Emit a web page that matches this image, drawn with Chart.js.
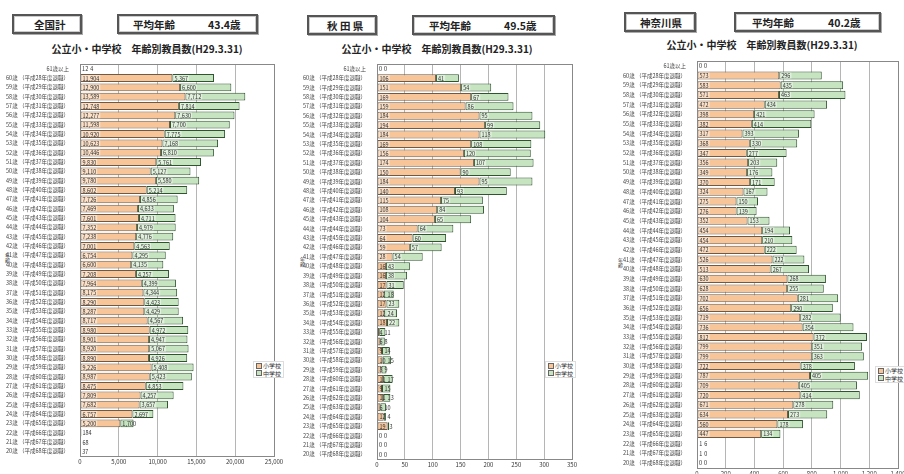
<!DOCTYPE html>
<html lang="ja">
<head>
<meta charset="utf-8">
<title>公立小・中学校 年齢別教員数(H29.3.31)</title>
<script src="https://cdn.jsdelivr.net/npm/chart.js@4.4.1/dist/chart.umd.min.js"></script>
<style>
  html, body { margin: 0; padding: 0; background: #fff; }
  body { width: 904px; height: 474px; position: relative; overflow: hidden;
         font-family: 'Noto Sans CJK JP', 'Noto Sans', sans-serif; color: #222; }
  canvas { position: absolute; }
  .box { position: absolute; box-sizing: border-box; border: 2px solid #555;
         box-shadow: inset 0 0 0 1px #ccc, 1px 1px 0 #aaa; font-weight: bold;
         font-size: 10.5px; background: #fff; }
  .box span { position: absolute; top: 1px; line-height: 15px; white-space: nowrap; }
  .title { position: absolute; font-weight: bold; font-size: 10px; white-space: nowrap;
           transform: translateX(-50%); line-height: 12px; }
  .ytitle { position: absolute; writing-mode: vertical-rl; font-size: 5px; color: #333; }
  .legend { position: absolute; border: 1px solid #ddd; background: #fff; font-size: 6px;
            line-height: 7.5px; padding: 0 2px; color: #333; white-space: nowrap; }
  .sw { display: inline-block; width: 4px; height: 4px; border: 1px solid #666; margin-right: 1px;
        vertical-align: -0.5px; }
</style>
</head>
<body>

<!-- 全国計 -->
<div class="box" style="left:12px;top:14px;width:70px;height:20px;"><span style="left:20px;">全国計</span></div>
<div class="box" style="left:117px;top:14px;width:141px;height:20px;"><span style="left:14px;">平均年齢</span><span style="left:89px;">43.4歳</span></div>
<div class="title" style="left:147px;top:43px;">公立小・中学校　年齢別教員数(H29.3.31)</div>
<div class="ytitle" style="left:4px;top:253px;">年齢</div>
<canvas id="chartZenkoku" width="290" height="418" style="left:0;top:56px;"></canvas>
<div class="legend" style="left:253px;top:361px;">
  <div><span class="sw" style="background:#f7c597"></span>小学校</div>
  <div><span class="sw" style="background:#c6e4c0"></span>中学校</div>
</div>

<!-- 秋田県 -->
<div class="box" style="left:307px;top:15px;width:70px;height:20px;"><span style="left:18px;">秋 田 県</span></div>
<div class="box" style="left:412px;top:15px;width:143px;height:20px;"><span style="left:15px;">平均年齢</span><span style="left:90px;">49.5歳</span></div>
<div class="title" style="left:437px;top:43px;">公立小・中学校　年齢別教員数(H29.3.31)</div>
<div class="ytitle" style="left:299px;top:257px;">年齢</div>
<canvas id="chartAkita" width="290" height="418" style="left:298px;top:56px;"></canvas>
<div class="legend" style="left:545px;top:361px;">
  <div><span class="sw" style="background:#f7c597"></span>小学校</div>
  <div><span class="sw" style="background:#c6e4c0"></span>中学校</div>
</div>

<!-- 神奈川県 -->
<div class="box" style="left:624px;top:12px;width:72px;height:20px;"><span style="left:14px;">神奈川県</span></div>
<div class="box" style="left:734px;top:12px;width:147px;height:20px;"><span style="left:16px;">平均年齢</span><span style="left:92px;">40.2歳</span></div>
<div class="title" style="left:762px;top:39px;">公立小・中学校　年齢別教員数(H29.3.31)</div>
<div class="ytitle" style="left:617px;top:258px;">年齢</div>
<canvas id="chartKanagawa" width="300" height="422" style="left:604px;top:52px;"></canvas>
<div class="legend" style="left:875px;top:366px;">
  <div><span class="sw" style="background:#f7c597"></span>小学校</div>
  <div><span class="sw" style="background:#c6e4c0"></span>中学校</div>
</div>

<script>
// 年齢区分
const ageLabels = [
    '61歳以上',
    '60歳 （平成28年度退職）', '59歳 （平成29年度退職）', '58歳 （平成30年度退職）',
    '57歳 （平成31年度退職）', '56歳 （平成32年度退職）', '55歳 （平成33年度退職）',
    '54歳 （平成34年度退職）', '53歳 （平成35年度退職）', '52歳 （平成36年度退職）',
    '51歳 （平成37年度退職）', '50歳 （平成38年度退職）', '49歳 （平成39年度退職）',
    '48歳 （平成40年度退職）', '47歳 （平成41年度退職）', '46歳 （平成42年度退職）',
    '45歳 （平成43年度退職）', '44歳 （平成44年度退職）', '43歳 （平成45年度退職）',
    '42歳 （平成46年度退職）', '41歳 （平成47年度退職）', '40歳 （平成48年度退職）',
    '39歳 （平成49年度退職）', '38歳 （平成50年度退職）', '37歳 （平成51年度退職）',
    '36歳 （平成52年度退職）', '35歳 （平成53年度退職）', '34歳 （平成54年度退職）',
    '33歳 （平成55年度退職）', '32歳 （平成56年度退職）', '31歳 （平成57年度退職）',
    '30歳 （平成58年度退職）', '29歳 （平成59年度退職）', '28歳 （平成60年度退職）',
    '27歳 （平成61年度退職）', '26歳 （平成62年度退職）', '25歳 （平成63年度退職）',
    '24歳 （平成64年度退職）', '23歳 （平成65年度退職）', '22歳 （平成66年度退職）',
    '21歳 （平成67年度退職）', '20歳 （平成68年度退職）'
];

// 全国計
const zenkokuShou = [12, 11904, 12900, 13589, 12748, 12277, 11598, 10920, 10623, 10446,
    9830, 9110, 9780, 8602, 7726, 7469, 7601, 7352, 7238, 7001,
    6754, 6600, 7208, 7964, 8175, 8290, 8287, 8717, 8980, 8901,
    8920, 8890, 9226, 8987, 8475, 7809, 7682, 6757, 5200, 184,
    68, 37];
const zenkokuChuu = [4, 5367, 6600, 7712, 7814, 7630, 7700, 7775, 7168, 6810,
    5761, 5127, 5580, 5214, 4856, 4633, 4711, 4979, 4776, 4563,
    4295, 4135, 4257, 4399, 4344, 4423, 4429, 4567, 4972, 4947,
    5067, 4926, 5408, 5423, 4853, 4257, 3657, 2697, 1700, null,
    null, null];

// 秋田県
const akitaShou = [0, 106, 151, 169, 159, 184, 194, 184, 169, 156,
    174, 150, 184, 140, 115, 108, 104, 73, 64, 59,
    28, 16, 16, 17, 12, 17, 12, 18, 4, 6,
    9, 10, 8, 11, 9, 11, 6, 12, 19, 0,
    0, 0];
const akitaChuu = [0, 41, 54, 67, 86, 95, 99, 118, 108, 120,
    107, 90, 95, 93, 75, 84, 65, 64, 60, 57,
    54, 43, 38, 31, 18, 23, 24, 22, 11, 8,
    14, 15, 9, 17, 15, 13, 10, 4, 3, 0,
    0, 0];

// 神奈川県
const kanagawaShou = [0, 573, 583, 571, 472, 398, 382, 317, 368, 347,
    356, 349, 370, 324, 275, 276, 352, 454, 454, 472,
    526, 513, 630, 628, 702, 656, 719, 736, 812, 799,
    799, 722, 787, 709, 720, 671, 634, 560, 447, 1,
    1, 0];
const kanagawaChuu = [0, 296, 435, 463, 434, 421, 414, 393, 330, 277,
    203, 176, 171, 167, 150, 139, 153, 194, 210, 222,
    222, 267, 268, 255, 281, 290, 282, 354, 372, 351,
    363, 378, 405, 405, 414, 278, 273, 178, 134, 6,
    0, 0];

Chart.defaults.font.family = "'Noto Sans CJK JP', 'Noto Sans', sans-serif";
Chart.defaults.color = '#333';

// 棒の中に数値を書く
const valueLabels = {
    id: 'valueLabels',
    afterDatasetsDraw(chart) {
        const ctx = chart.ctx;
        ctx.save();
        ctx.font = "5.5px 'Noto Sans CJK JP', sans-serif";
        ctx.textBaseline = 'middle';
        const lastEnd = {};
        chart.data.datasets.forEach((ds, di) => {
            const meta = chart.getDatasetMeta(di);
            meta.data.forEach((bar, i) => {
                const v = ds.data[i];
                if (v === null || v === undefined) return;
                const txt = v.toLocaleString('en-US');
                const w = ctx.measureText(txt).width;
                let left = Math.min(bar.base, bar.x) + 2;
                if (lastEnd[i] !== undefined && left < lastEnd[i] + 2) left = lastEnd[i] + 2;
                const inside = Math.abs(bar.x - bar.base) > w + 4;
                if (inside) {
                    ctx.fillStyle = 'rgba(255,255,255,0.45)';
                    ctx.fillRect(left - 1, bar.y - 3, w + 2, 6);
                }
                ctx.fillStyle = '#333';
                ctx.fillText(txt, left, bar.y + 0.5);
                lastEnd[i] = left + w;
            });
        });
        ctx.restore();
    }
};

// グラフ枠
const plotFrame = {
    id: 'plotFrame',
    afterDraw(chart) {
        const a = chart.chartArea;
        const ctx = chart.ctx;
        ctx.save();
        ctx.strokeStyle = '#888';
        ctx.lineWidth = 1;
        ctx.strokeRect(Math.round(a.left) + 0.5, Math.round(a.top) + 0.5,
            Math.round(a.right - a.left), Math.round(a.bottom - a.top));
        ctx.restore();
    }
};

function createPanel(canvasId, shou, chuu, xMax, xStep, yWidth, pad, xHeight) {
    const ctx = document.getElementById(canvasId).getContext('2d');
    return new Chart(ctx, {
        type: 'bar',
        data: {
            labels: ageLabels,
            datasets: [{
                label: '小学校',
                data: shou,
                backgroundColor: '#f7c597',
                borderColor: '#6e5a46',
                borderWidth: 1,
                borderSkipped: false,
                barPercentage: 0.84,
                categoryPercentage: 1
            }, {
                label: '中学校',
                data: chuu,
                backgroundColor: '#c6e4c0',
                borderColor: '#2f552f',
                borderWidth: 1,
                borderSkipped: false,
                barPercentage: 0.84,
                categoryPercentage: 1
            }]
        },
        options: {
            indexAxis: 'y',
            responsive: false,
            animation: false,
            layout: { padding: pad },
            plugins: {
                legend: { display: false },
                title: { display: false },
                tooltip: { enabled: false }
            },
            scales: {
                x: {
                    stacked: true,
                    min: 0,
                    max: xMax,
                    ticks: {
                        stepSize: xStep,
                        font: { size: 6 },
                        padding: 2,
                        maxRotation: 0,
                        callback: v => v.toLocaleString('en-US')
                    },
                    grid: { color: '#b5b5b5', drawTicks: false },
                    border: { display: false },
                    afterFit(scale) {
                        scale.height = xHeight;
                        scale.paddingLeft = 0;
                        scale.paddingRight = 0;
                    }
                },
                y: {
                    stacked: true,
                    ticks: { autoSkip: false, font: { size: 5.5 }, padding: 3, color: '#444' },
                    grid: { display: false },
                    border: { display: true, color: '#555' },
                    afterFit(scale) { scale.width = yWidth; }
                }
            }
        },
        plugins: [plotFrame, valueLabels]
    });
}

createPanel('chartZenkoku', zenkokuShou, zenkokuChuu, 25000, 5000, 80,
    { top: 8, right: 16, bottom: 0, left: 0 }, 18);
createPanel('chartAkita', akitaShou, akitaChuu, 350, 50, 79,
    { top: 8, right: 16, bottom: 0, left: 0 }, 15);
createPanel('chartKanagawa', kanagawaShou, kanagawaChuu, 1400, 200, 93,
    { top: 9, right: 6, bottom: 0, left: 0 }, 6);
</script>
</body>
</html>
